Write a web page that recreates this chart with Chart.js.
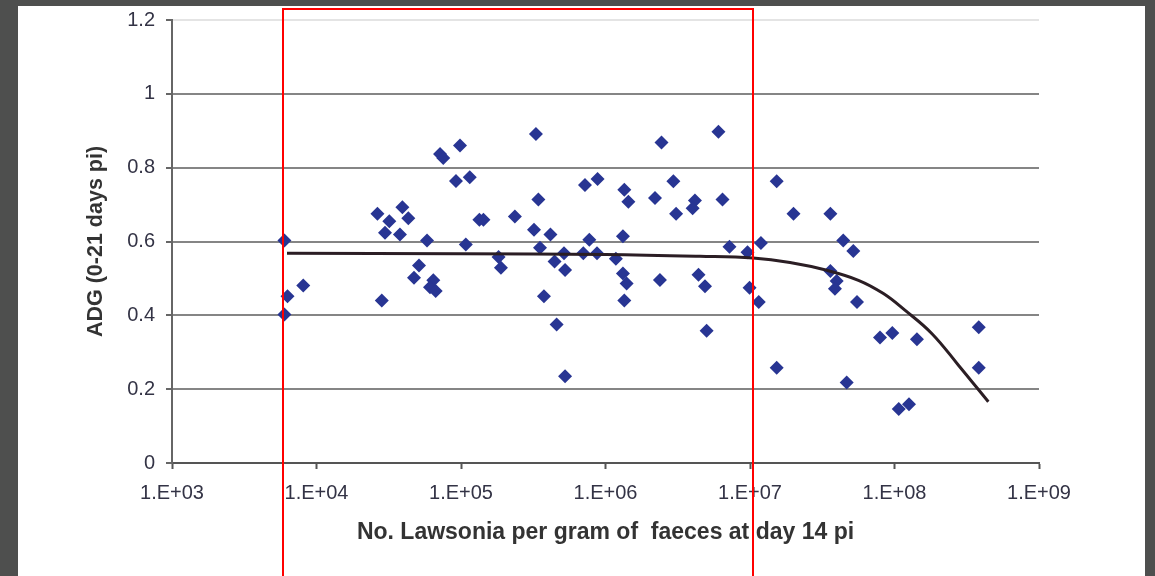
<!DOCTYPE html>
<html>
<head>
<meta charset="utf-8">
<script src="https://cdn.jsdelivr.net/npm/chart.js@4.4.1/dist/chart.umd.min.js"></script>
<style>
  html, body { margin: 0; padding: 0; }
  body { width: 1155px; height: 576px; background: #4e4f4e; position: relative; overflow: hidden; }
  .sheet { position: absolute; left: 18px; top: 6px; width: 1127px; height: 570px; background: #fff; }
  .frame { position: absolute; left: 282px; top: 8px; width: 472px; height: 620px;
           border: 2px solid #ff0000; box-sizing: border-box; pointer-events: none; }
</style>
</head>
<body>
<div class="sheet"><canvas id="chart" width="1127" height="570"></canvas></div>
<div class="frame"></div>
<script>
// Lawsonia count per gram of faeces (day 14 pi) and ADG for each pig
const lawsoniaCounts = [
  6.0e3, 6.3e3, 6.0e3, 8.1e3, 2.64e4, 2.83e4, 3.19e4, 2.98e4, 3.93e4, 4.32e4,
  3.78e4, 5.82e4, 5.12e4, 4.73e4, 6.43e4, 6.1e4, 6.68e4, 7.16e4, 7.54e4, 9.23e4,
  9.84e4, 1.15e5, 1.34e5, 1.43e5, 1.08e5, 2.36e5, 3.3e5, 3.43e5, 3.2e5, 4.16e5,
  1.82e5, 1.89e5, 3.52e5, 4.44e5, 5.16e5, 5.25e5, 3.75e5, 4.59e5, 5.25e5, 7.21e5,
  8.81e5, 7.73e5, 7.02e5, 8.73e5, 1.35e6, 1.44e6, 1.32e6, 1.18e6, 1.32e6, 1.40e6,
  1.35e6, 2.44e6, 2.95e6, 2.2e6, 4.16e6, 4.01e6, 3.08e6, 6.45e6, 6.05e6, 1.53e7,
  2.0e7, 7.21e6, 9.61e6, 1.19e7, 2.38e6, 4.4e6, 4.88e6, 9.93e6, 1.15e7, 5.01e6,
  1.53e7, 3.6e7, 4.42e7, 5.19e7, 3.6e7, 3.98e7, 3.87e7, 5.5e7, 7.94e7, 9.66e7,
  1.43e8, 3.83e8, 3.83e8, 4.67e7, 1.07e8, 1.26e8
];
const adgValues = [
  0.603, 0.452, 0.402, 0.481, 0.675, 0.44, 0.655, 0.624, 0.693, 0.663,
  0.619, 0.603, 0.535, 0.502, 0.495, 0.476, 0.466, 0.837, 0.826, 0.764,
  0.86, 0.774, 0.659, 0.659, 0.592, 0.668, 0.891, 0.714, 0.632, 0.619,
  0.558, 0.529, 0.583, 0.546, 0.568, 0.523, 0.452, 0.375, 0.235, 0.753,
  0.769, 0.605, 0.568, 0.568, 0.74, 0.708, 0.614, 0.553, 0.513, 0.486,
  0.44, 0.868, 0.763, 0.718, 0.711, 0.69, 0.675, 0.714, 0.897, 0.763,
  0.675, 0.586, 0.571, 0.596, 0.496, 0.51, 0.479, 0.475, 0.436, 0.358,
  0.258, 0.675, 0.603, 0.574, 0.52, 0.493, 0.472, 0.436, 0.34, 0.352,
  0.335, 0.368, 0.258, 0.218, 0.146, 0.159
];

// trend curve
const trendCounts = [6.25e3, 1e5, 1e6, 4.5e6, 1.05e7, 1.89e7, 3.4e7, 5.63e7, 8.38e7, 1.18e8, 1.81e8, 2.77e8, 4.46e8];
const trendAdg = [0.568, 0.567, 0.565, 0.56, 0.555, 0.543, 0.522, 0.495, 0.459, 0.414, 0.351, 0.265, 0.166];

const xTickValues = [1e3, 1e4, 1e5, 1e6, 1e7, 1e8, 1e9];
const xTickLabels = ['1.E+03', '1.E+04', '1.E+05', '1.E+06', '1.E+07', '1.E+08', '1.E+09'];
const yTickValues = [0, 0.2, 0.4, 0.6, 0.8, 1, 1.2];

const points = lawsoniaCounts.map((x, i) => ({ x: x, y: adgValues[i] }));
const trend = trendCounts.map((x, i) => ({ x: x, y: trendAdg[i] }));

const family = '"Liberation Sans", Arial, sans-serif';
const tickFont = { family: family, size: 20 };

new Chart(document.getElementById('chart'), {
  type: 'scatter',
  data: {
    datasets: [{
      data: trend,
      showLine: true,
      borderColor: '#2b1e24',
      borderWidth: 3,
      pointRadius: 0,
      tension: 0.4,
      order: 0
    }, {
      data: points,
      pointStyle: 'rectRot',
      pointRadius: 7,
      backgroundColor: '#283593',
      borderColor: '#283593',
      borderWidth: 0,
      order: 1
    }]
  },
  options: {
    responsive: false,
    animation: false,
    layout: { padding: { left: 0, right: 106, top: 14, bottom: 0 } },
    plugins: { legend: { display: false }, tooltip: { enabled: false } },
    scales: {
      x: {
        type: 'logarithmic',
        min: 1e3,
        max: 1e9,
        afterBuildTicks: scale => { scale.ticks = xTickValues.map(v => ({ value: v })); },
        afterFit: scale => { scale.height = 113; },
        grid: { display: true, drawOnChartArea: false, tickLength: 6, tickColor: '#555', tickWidth: 2 },
        border: { color: '#555', width: 2 },
        ticks: {
          autoSkip: false,
          maxRotation: 0,
          padding: 12,
          color: '#333345',
          font: tickFont,
          callback: (v) => xTickLabels[xTickValues.indexOf(v)]
        },
        title: {
          display: true,
          text: 'No. Lawsonia per gram of  faeces at day 14 pi',
          color: '#333',
          font: { family: family, size: 23, weight: 'bold' },
          padding: { top: 0, bottom: 30 }
        }
      },
      y: {
        min: 0,
        max: 1.2,
        afterBuildTicks: scale => { scale.ticks = yTickValues.map(v => ({ value: v })); },
        afterFit: scale => {
          scale.width = 154;
          // keep the plot top pinned to the layout padding
          scale.paddingTop = 0;
          scale.paddingBottom = 0;
        },
        grid: {
          color: ctx => ctx.tick && ctx.tick.value === 1.2 ? '#e4e4e4' : '#858585',
          lineWidth: 2,
          tickLength: 6,
          tickColor: '#666',
          tickWidth: 2
        },
        border: { color: '#666', width: 2 },
        ticks: {
          padding: 11,
          color: '#333345',
          font: tickFont,
          callback: v => String(+v.toFixed(1))
        },
        title: {
          display: true,
          text: 'ADG (0-21 days pi)',
          color: '#333',
          font: { family: family, size: 21.5, weight: 'bold' },
          padding: { top: 65, bottom: 0 }
        }
      }
    }
  }
});
</script>
</body>
</html>
